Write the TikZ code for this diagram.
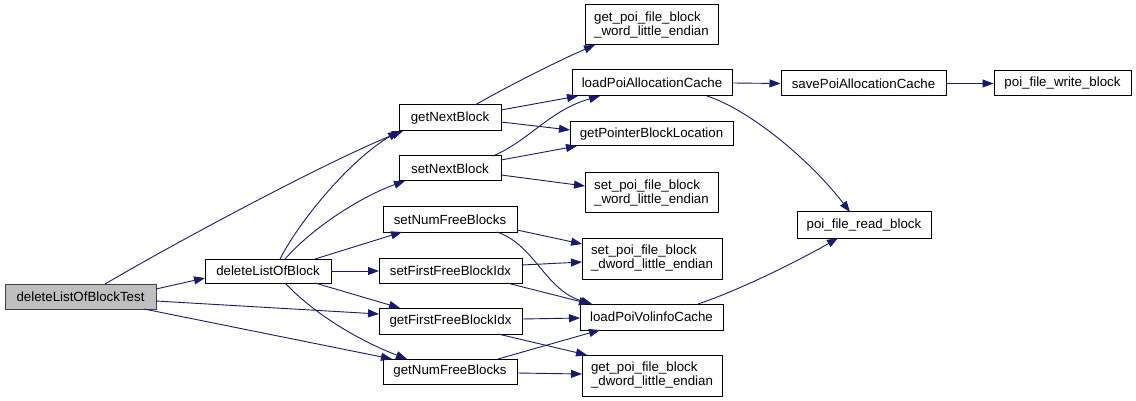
\documentclass[tikz,border=0pt]{standalone}
\usepackage{fontspec}
\setmainfont{Liberation Sans}
\usetikzlibrary{arrows.meta,calc}
\definecolor{edgec}{HTML}{191970}
\definecolor{grayfill}{HTML}{BFBFBF}
\begin{document}
\begin{tikzpicture}[x=1pt,y=-1pt,
  fn/.style={draw=black,line width=1pt,fill=white,inner sep=0pt,
    font=\fontsize{13.3}{14}\selectfont,align=left},
  edge/.style={draw=edgec,line width=0.9pt,-{Triangle[length=11pt,width=8pt]}}]
\useasboundingbox[fill=white] (0,0) rectangle (1136,401);
% nodes
\node[fn,fill=grayfill,draw={rgb,255:red,64;green,64;blue,64},minimum width=151pt,minimum height=25pt] (T) at (80.5,296.5) {deleteListOfBlockTest};
\node[fn,minimum width=126pt,minimum height=24pt] (D) at (268,271) {deleteListOfBlock};
\node[fn,minimum width=102pt,minimum height=26pt] (GNB) at (450,118) {getNextBlock};
\node[fn,minimum width=102pt,minimum height=25pt] (SNB) at (450,168.5) {setNextBlock};
\node[fn,minimum width=134pt,minimum height=25pt] (SNF) at (450,219.5) {setNumFreeBlocks};
\node[fn,minimum width=143pt,minimum height=25pt] (SFF) at (450.5,270.5) {setFirstFreeBlockIdx};
\node[fn,minimum width=143pt,minimum height=26pt] (GFF) at (450.5,321) {getFirstFreeBlockIdx};
\node[fn,minimum width=134pt,minimum height=25pt] (GNF) at (450,371.5) {getNumFreeBlocks};
\node[fn,minimum width=133pt,minimum height=40pt] (GW) at (651.5,25) {get\_poi\_file\_block\\\_word\_little\_endian};
\node[fn,minimum width=160pt,minimum height=26pt] (LPA) at (652,83) {loadPoiAllocationCache};
\node[fn,minimum width=163pt,minimum height=24pt] (GPB) at (651.5,134) {getPointerBlockLocation};
\node[fn,minimum width=133pt,minimum height=40pt] (SW) at (651.5,193) {set\_poi\_file\_block\\\_word\_little\_endian};
\node[fn,minimum width=140pt,minimum height=41pt] (SD) at (652,258.5) {set\_poi\_file\_block\\\_dword\_little\_endian};
\node[fn,minimum width=143pt,minimum height=26pt] (LPV) at (651.5,317) {loadPoiVolinfoCache};
\node[fn,minimum width=140pt,minimum height=41pt] (GD) at (652,375.5) {get\_poi\_file\_block\\\_dword\_little\_endian};
\node[fn,minimum width=165pt,minimum height=25pt] (SPA) at (863.5,83.5) {savePoiAllocationCache};
\node[fn,minimum width=137pt,minimum height=25pt] (PW) at (1062.5,83.5) {poi\_file\_write\_block};
\node[fn,minimum width=134pt,minimum height=26pt] (PR) at (864,225) {poi\_file\_read\_block};
% edges
\draw[edge] ($(T)+(24.5,-12.5)$) .. controls (180,240) and (330,160) .. ($(GNB)+(-47,13)$);
\draw[edge] ($(T)+(75.5,-7.5)$) -- ($(D)+(-63,7)$);
\draw[edge] ($(T)+(75.5,4.5)$) -- ($(GFF)+(-71.5,-7)$);
\draw[edge] ($(T)+(63.5,12.5)$) -- ($(GNF)+(-58,-12.5)$);
\draw[edge] ($(D)+(12,-12)$) .. controls (300,220) and (350,160) .. ($(GNB)+(-51,13)$);
\draw[edge] ($(D)+(17,-12)$) .. controls (315,225) and (365,195) .. ($(SNB)+(-45,12.5)$);
\draw[edge] ($(D)+(47,-12)$) -- ($(SNF)+(-48,12.5)$);
\draw[edge] ($(D)+(63,0)$) -- ($(SFF)+(-71.5,0.5)$);
\draw[edge] ($(D)+(47,12)$) -- ($(GFF)+(-50.5,-13)$);
\draw[edge] ($(D)+(17,12)$) .. controls (320,320) and (370,345) .. ($(GNF)+(-43,-12.5)$);
\draw[edge] ($(GNB)+(25,-13)$) .. controls (510,85) and (560,60) .. ($(GW)+(-56.5,20)$);
\draw[edge] ($(GNB)+(51,-8)$) -- ($(LPA)+(-74,13)$);
\draw[edge] ($(GNB)+(51,4)$) -- ($(GPB)+(-81.5,-4)$);
\draw[edge] ($(SNB)+(43,-12.5)$) .. controls (530,140) and (550,110) .. ($(LPA)+(-52,13)$);
\draw[edge] ($(SNB)+(51,-8.5)$) -- ($(GPB)+(-74.5,12)$);
\draw[edge] ($(SNB)+(51,6.5)$) -- ($(SW)+(-66.5,-7)$);
\draw[edge] ($(SNF)+(67,10.5)$) -- ($(SD)+(-70,-14.5)$);
\draw[edge] ($(SNF)+(47,12.5)$) .. controls (535,245) and (545,290) .. ($(LPV)+(-59.5,-13)$);
\draw[edge] ($(SFF)+(71.5,-5.5)$) -- ($(SD)+(-70,3.5)$);
\draw[edge] ($(SFF)+(56.5,12.5)$) -- ($(LPV)+(-61.5,-13)$);
\draw[edge] ($(GFF)+(71.5,-2)$) -- ($(LPV)+(-71.5,1)$);
\draw[edge] ($(GFF)+(47.5,13)$) -- ($(GD)+(-65,-20.5)$);
\draw[edge] ($(GNF)+(48,-12.5)$) -- ($(LPV)+(-51.5,13)$);
\draw[edge] ($(GNF)+(67,1.5)$) -- ($(GD)+(-70,-1.5)$);
\draw[edge] (LPA.east) -- (SPA.west);
\draw[edge] ($(LPA)+(55,13)$) .. controls (750,110) and (810,160) .. ($(PR)+(-14,-13)$);
\draw[edge] (SPA.east) -- (PW.west);
\draw[edge] ($(LPV)+(46.5,-13)$) .. controls (740,290) and (800,260) .. ($(PR)+(-26,13)$);
\end{tikzpicture}
\end{document}
